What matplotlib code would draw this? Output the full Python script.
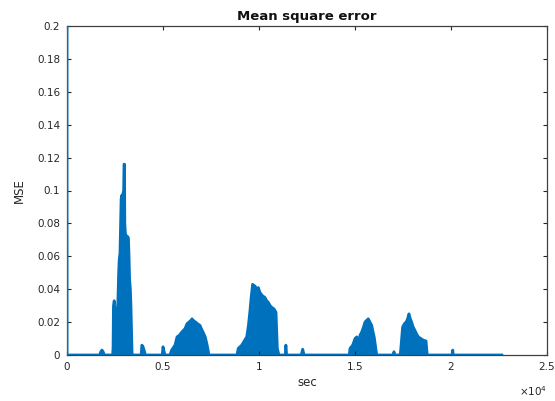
import numpy as np
import matplotlib
matplotlib.use('Agg')
import matplotlib.pyplot as plt

plt.rcParams['font.family'] = ['DejaVu Sans']

# time in seconds and MSE values
sec = [0, 1, 30, 1700, 1760, 1820, 1880, 1950,
       2380, 2400, 2420, 2460, 2490, 2530, 2570, 2610, 2650, 2690, 2720, 2760,
       2790, 2820, 2850, 2880, 2910, 2950, 2970, 2995, 3010, 3040, 3070, 3100,
       3130, 3160, 3200, 3230, 3260, 3300, 3330, 3360, 3390,
       3860, 3900, 3960, 4040, 4080, 4960, 5000, 5060, 5100,
       5360, 5450, 5625, 5730, 5850, 5980, 6145, 6250, 6350, 6450, 6510, 6580,
       6700, 6800, 6927, 7000, 7083, 7200, 7300, 7395,
       8850, 8920, 9100, 9360, 9450, 9530, 9600, 9670, 9730, 9790, 9880, 9965,
       10050, 10180, 10310, 10400, 10485, 10580, 10660, 10780, 10885, 10955, 11040,
       11370, 11400, 11440, 12200, 12275, 12350,
       14700, 14740, 14880, 15000, 15090, 15170, 15260, 15350, 15440, 15520,
       15600, 15690, 15780, 15870, 15940, 16000, 16130,
       17000, 17030, 17060, 17350, 17380, 17480, 17570, 17660, 17740, 17810,
       17880, 17950, 18030, 18120, 18200, 18300, 18430, 18560, 18700, 18760,
       20060, 20090, 20120, 22650]
mse = [0.25, 0.0, 0.0, 0.0, 0.002, 0.003, 0.002, 0.0,
       0.0, 0.005, 0.030, 0.033, 0.028, 0.025, 0.027, 0.026, 0.032, 0.050, 0.058, 0.062,
       0.080, 0.095, 0.097, 0.094, 0.098, 0.100, 0.116, 0.116, 0.080, 0.074, 0.073, 0.066,
       0.068, 0.072, 0.071, 0.060, 0.046, 0.040, 0.030, 0.015, 0.0,
       0.0, 0.006, 0.005, 0.002, 0.0, 0.0, 0.005, 0.002, 0.0,
       0.0, 0.003, 0.006, 0.011, 0.012, 0.014, 0.016, 0.019, 0.020, 0.021, 0.022, 0.021,
       0.020, 0.019, 0.018, 0.016, 0.014, 0.011, 0.006, 0.0,
       0.0, 0.004, 0.006, 0.011, 0.018, 0.027, 0.036, 0.043, 0.042, 0.042, 0.040, 0.041,
       0.038, 0.036, 0.035, 0.033, 0.032, 0.030, 0.029, 0.028, 0.026, 0.004, 0.0,
       0.0, 0.006, 0.0, 0.0, 0.0035, 0.0,
       0.0, 0.004, 0.006, 0.010, 0.011, 0.007, 0.012, 0.014, 0.017, 0.020,
       0.021, 0.022, 0.020, 0.018, 0.014, 0.011, 0.0,
       0.0, 0.002, 0.0, 0.0, 0.003, 0.017, 0.019, 0.020, 0.022, 0.025,
       0.022, 0.020, 0.017, 0.015, 0.013, 0.011, 0.010, 0.009, 0.0085, 0.0,
       0.0, 0.003, 0.0, 0.0]

yticks = [0, 0.02, 0.04, 0.06, 0.08, 0.1, 0.12, 0.14, 0.16, 0.18, 0.2]
ytick_labels = ['0', '0.02', '0.04', '0.06', '0.08', '0.1', '0.12', '0.14', '0.16', '0.18', '0.2']
xticks = [0, 5000, 10000, 15000, 20000, 25000]
xtick_labels = ['0', '0.5', '1', '1.5', '2', '2.5']

blue = '#0072BD'

fig = plt.figure(figsize=(5.55, 4.01), dpi=100)
ax = fig.add_axes([67/555, 46/401, 480/555, 329/401])

ax.fill_between(sec, mse, color=blue, lw=0)
ax.plot(sec, mse, color=blue, lw=2, zorder=3)

ax.set_xlim(0, 25000)
ax.set_ylim(0, 0.2)
ax.set_xticks(xticks)
ax.set_xticklabels(xtick_labels)
ax.set_yticks(yticks)
ax.set_yticklabels(ytick_labels)
ax.tick_params(direction='in', top=True, right=True, labelsize=7.5, length=3,
               color='#262626', labelcolor='#262626', pad=5)
for s in ax.spines.values():
    s.set_color('#404040')
    s.set_linewidth(0.9)

ax.set_title('Mean square error', fontsize=9.5, fontweight='bold', color='#111111', pad=4)
ax.set_xlabel('sec', fontsize=8.5, color='#262626', labelpad=3)
ax.set_ylabel('MSE', fontsize=8.5, color='#262626', labelpad=8)
ax.text(1.0, -0.11, r'$\times10^{4}$', transform=ax.transAxes, fontsize=7.5,
        ha='right', va='center', color='#262626')

fig.savefig('out.png', dpi=100)
